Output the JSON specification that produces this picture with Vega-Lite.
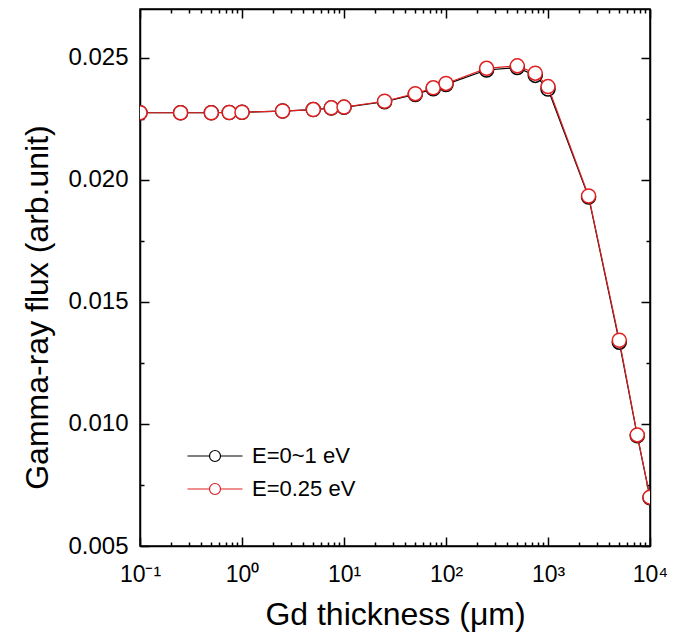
{
  "$schema": "https://vega.github.io/schema/vega-lite/v6.json",
  "width": 510,
  "height": 537,
  "autosize": {"type": "none"},
  "padding": {"left": 140, "top": 9, "right": 30, "bottom": 89},
  "config": {
    "font": "Liberation Sans",
    "view": {"stroke": "black", "strokeWidth": 1.5},
    "axis": {
      "domainColor": "black", "domainWidth": 1.5, "tickColor": "black", "tickWidth": 1.5,
      "labelColor": "black", "titleColor": "black", "labelFontSize": 20, "titleFontSize": 32,
      "titleFontWeight": "normal", "grid": false, "labelOverlap": false, "labelFlush": false,
      "tickSize": -9
    }
  },
  "data": {"values": [
    {"x": 0.1, "y": 0.02275, "series": "E=0.25 eV"},
    {"x": 0.25, "y": 0.02275, "series": "E=0.25 eV"},
    {"x": 0.5, "y": 0.02275, "series": "E=0.25 eV"},
    {"x": 0.75, "y": 0.02276, "series": "E=0.25 eV"},
    {"x": 1, "y": 0.02277, "series": "E=0.25 eV"},
    {"x": 2.5, "y": 0.02282, "series": "E=0.25 eV"},
    {"x": 5, "y": 0.02288, "series": "E=0.25 eV"},
    {"x": 7.5, "y": 0.02295, "series": "E=0.25 eV"},
    {"x": 10, "y": 0.02298, "series": "E=0.25 eV"},
    {"x": 25, "y": 0.02322, "series": "E=0.25 eV"},
    {"x": 50, "y": 0.02353, "series": "E=0.25 eV"},
    {"x": 75, "y": 0.02377, "series": "E=0.25 eV"},
    {"x": 100, "y": 0.02395, "series": "E=0.25 eV"},
    {"x": 250, "y": 0.02457, "series": "E=0.25 eV"},
    {"x": 500, "y": 0.02467, "series": "E=0.25 eV"},
    {"x": 750, "y": 0.02437, "series": "E=0.25 eV"},
    {"x": 1000, "y": 0.02382, "series": "E=0.25 eV"},
    {"x": 2500, "y": 0.01934, "series": "E=0.25 eV"},
    {"x": 5000, "y": 0.01343, "series": "E=0.25 eV"},
    {"x": 7500, "y": 0.00955, "series": "E=0.25 eV"},
    {"x": 10000, "y": 0.00700, "series": "E=0.25 eV"},
    {"x": 0.1, "y": 0.02275, "series": "E=0~1 eV"},
    {"x": 0.25, "y": 0.02275, "series": "E=0~1 eV"},
    {"x": 0.5, "y": 0.02275, "series": "E=0~1 eV"},
    {"x": 0.75, "y": 0.02276, "series": "E=0~1 eV"},
    {"x": 1, "y": 0.02277, "series": "E=0~1 eV"},
    {"x": 2.5, "y": 0.02282, "series": "E=0~1 eV"},
    {"x": 5, "y": 0.02288, "series": "E=0~1 eV"},
    {"x": 7.5, "y": 0.02294, "series": "E=0~1 eV"},
    {"x": 10, "y": 0.02297, "series": "E=0~1 eV"},
    {"x": 25, "y": 0.02320, "series": "E=0~1 eV"},
    {"x": 50, "y": 0.02350, "series": "E=0~1 eV"},
    {"x": 75, "y": 0.02373, "series": "E=0~1 eV"},
    {"x": 100, "y": 0.02391, "series": "E=0~1 eV"},
    {"x": 250, "y": 0.02450, "series": "E=0~1 eV"},
    {"x": 500, "y": 0.02460, "series": "E=0~1 eV"},
    {"x": 750, "y": 0.02428, "series": "E=0~1 eV"},
    {"x": 1000, "y": 0.02372, "series": "E=0~1 eV"},
    {"x": 2500, "y": 0.01930, "series": "E=0~1 eV"},
    {"x": 5000, "y": 0.01335, "series": "E=0~1 eV"},
    {"x": 7500, "y": 0.00952, "series": "E=0~1 eV"},
    {"x": 10000, "y": 0.00698, "series": "E=0~1 eV"}
  ]},
  "layer": [
    {
      "transform": [{"filter": "datum.series == 'E=0~1 eV'"}],
      "encoding": {
        "x": {"field": "x", "type": "quantitative",
          "scale": {"type": "log", "domain": [0.1, 10000], "nice": false},
          "axis": {"orient": "bottom", "title": "Gd thickness (μm)", "titlePadding": 13,
            "values": [0.1,0.2,0.3,0.4,0.5,0.6,0.7,0.8,0.9,1,2,3,4,5,6,7,8,9,10,20,30,40,50,60,70,80,90,100,200,300,400,500,600,700,800,900,1000,2000,3000,4000,5000,6000,7000,8000,9000,10000],
            "labelExpr": "datum.value==0.1?'10⁻¹':datum.value==1?'10⁰':datum.value==10?'10¹':datum.value==100?'10²':datum.value==1000?'10³':datum.value==10000?'10⁴':''",
            "labelFontSize": 23, "labelPadding": 26,
            "tickDash": {"condition": {"test": "datum.value==0.1||datum.value==1||datum.value==10||datum.value==100||datum.value==1000||datum.value==10000", "value": [9, 0]}, "value": [4, 30]}
          }},
        "y": {"field": "y", "type": "quantitative",
          "scale": {"domain": [0.005, 0.027], "nice": false, "zero": false},
          "axis": {"orient": "left", "title": "Gamma-ray flux (arb.unit)", "titlePadding": 13, "titleY": 298,
            "values": [0.005,0.0075,0.01,0.0125,0.015,0.0175,0.02,0.0225,0.025],
            "labelExpr": "abs(datum.value*200 - round(datum.value*200)) < 1e-6 ? format(datum.value, '.3f') : ''",
            "labelFontSize": 24, "labelPadding": 21,
            "tickDash": {"condition": {"test": "abs(datum.value*200 - round(datum.value*200)) < 1e-6", "value": [9, 0]}, "value": [4, 30]}
          }},
        "stroke": {"field": "series", "type": "nominal",
          "scale": {"domain": ["E=0~1 eV", "E=0.25 eV"], "range": ["#000000", "#e02020"]},
          "legend": {"orient": "none", "legendX": 44, "legendY": 436, "title": null,
            "symbolType": "M-5,0H-1M1,0H5M-1,0A1,1,0,1,1,1,0A1,1,0,1,1,-1,0Z",
            "symbolSize": 121, "symbolFillColor": "white", "symbolStrokeWidth": 1.2,
            "symbolOffset": 20, "labelOffset": 26, "labelFontSize": 22, "labelColor": "black",
            "rowPadding": 11, "labelFont": "Liberation Sans"}}
      },
      "layer": [
        {"mark": {"type": "line", "strokeWidth": 1.2, "clip": true}},
        {"mark": {"type": "point", "shape": "circle", "size": 196, "strokeWidth": 1.5, "fill": "white", "filled": false, "opacity": 1, "clip": true}}
      ]
    },
    {
      "transform": [{"filter": "datum.series == 'E=0.25 eV'"}],
      "encoding": {
        "x": {"field": "x", "type": "quantitative",
          "scale": {"type": "log", "domain": [0.1, 10000], "nice": false},
          "axis": {"orient": "top", "title": null, "labels": false,
            "values": [0.1,0.2,0.3,0.4,0.5,0.6,0.7,0.8,0.9,1,2,3,4,5,6,7,8,9,10,20,30,40,50,60,70,80,90,100,200,300,400,500,600,700,800,900,1000,2000,3000,4000,5000,6000,7000,8000,9000,10000],
            "tickDash": {"condition": {"test": "datum.value==0.1||datum.value==1||datum.value==10||datum.value==100||datum.value==1000||datum.value==10000", "value": [9, 0]}, "value": [4, 30]}
          }},
        "y": {"field": "y", "type": "quantitative",
          "scale": {"domain": [0.005, 0.027], "nice": false, "zero": false},
          "axis": {"orient": "right", "title": null, "labels": false,
            "values": [0.005,0.0075,0.01,0.0125,0.015,0.0175,0.02,0.0225,0.025],
            "tickDash": {"condition": {"test": "abs(datum.value*200 - round(datum.value*200)) < 1e-6", "value": [9, 0]}, "value": [4, 30]}
          }},
        "stroke": {"field": "series", "type": "nominal"}
      },
      "layer": [
        {"mark": {"type": "line", "strokeWidth": 1.2, "clip": true}},
        {"mark": {"type": "point", "shape": "circle", "size": 196, "strokeWidth": 1.5, "fill": "white", "filled": false, "opacity": 1, "clip": true}}
      ]
    }
  ],
  "resolve": {"axis": {"x": "independent", "y": "independent"}}
}
